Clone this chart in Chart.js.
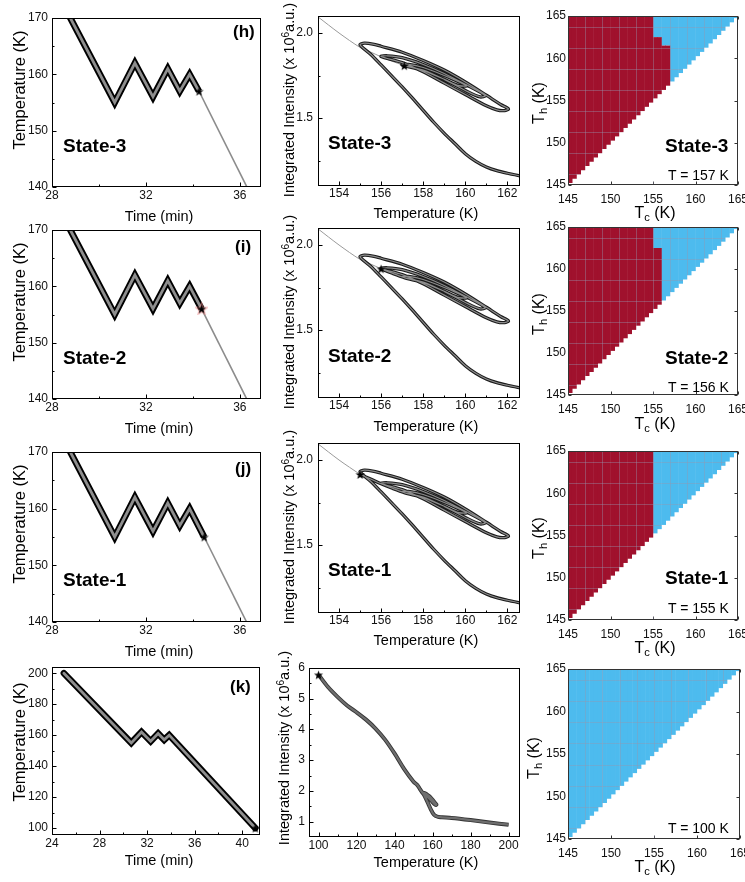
<!DOCTYPE html>
<html><head><meta charset="utf-8"><title>Hysteresis memory states</title>
<script src="https://cdn.jsdelivr.net/npm/chart.js@4.4.1/dist/chart.umd.min.js"></script>
<style>
html,body{margin:0;padding:0;background:#fff;}
body{width:745px;height:882px;overflow:hidden;position:relative;font-family:"Liberation Sans",Arial,sans-serif;color:#000;}
canvas{position:absolute;display:block;}
.t{position:absolute;white-space:nowrap;line-height:1;z-index:5;color:#000;}
.c{transform:translate(-50%,-50%);}
.v{transform:translate(-50%,-50%) rotate(-90deg);}
.b{font-weight:bold;}
sub{font-size:70%;vertical-align:-0.3em;line-height:0;}
sup{font-size:70%;vertical-align:0.5em;line-height:0;}
</style></head><body>
<script>
// ---------------- DATA ----------------
// Temperature protocol (time in min, temperature in K)
const protoTime = [25.0, 30.67, 31.53, 32.30, 32.93, 33.44, 33.86];
const protoTemp = [200, 155, 162, 156, 161, 157, 160];
const protoEndTime = [41.1];
const protoEndTemp = [100];
// star (current state) positions for rows h, i, j, k
const panelTags = ['(h)', '(i)', '(j)', '(k)'];
const stateNames = ['State-3', 'State-2', 'State-1', ''];
const stateTemps = ['T = 157 K', 'T = 156 K', 'T = 155 K', 'T = 100 K'];
const starTime = [34.26, 34.37, 34.48, 41.1];
const starTemp = [157, 156, 155, 100];

// Integrated intensity (x10^6 a.u.) vs temperature (K)
// initial cooling 200 K -> 155 K
const initCoolT = [200, 190, 180, 170, 165, 163, 162.6, 162.0, 161.5, 161.0, 160.5, 160.0, 159.5, 159.0, 158.5, 158.0, 157.5, 157.0, 156.5, 156.0, 155.5, 155.0];
const initCoolI = [0.90, 0.97, 1.05, 1.12, 1.14, 1.155, 1.16, 1.175, 1.19, 1.212, 1.245, 1.29, 1.35, 1.41, 1.475, 1.545, 1.615, 1.683, 1.748, 1.812, 1.875, 1.93];
// nested minor loops 155->162->156->161->157->160->cooling
const loopT = [155.2, 155.6, 156.0, 157.0, 158.0, 159.0, 160.0, 161.0, 161.7, 162.05,
               161.8, 161.5, 161.0, 160.0, 159.0, 158.0, 157.0, 156.0,
               156.3, 157.0, 158.0, 159.0, 160.0, 160.95,
               160.7, 160.0, 159.0, 158.0, 157.0,
               157.3, 158.0, 159.0, 160.05,
               159.7, 159.0, 158.0];
const loopI = [1.940, 1.935, 1.922, 1.887, 1.838, 1.782, 1.712, 1.634, 1.578, 1.553,
               1.543, 1.548, 1.572, 1.638, 1.705, 1.772, 1.826, 1.862,
               1.866, 1.855, 1.815, 1.762, 1.698, 1.632,
               1.624, 1.662, 1.727, 1.782, 1.812,
               1.815, 1.797, 1.750, 1.690,
               1.690, 1.728, 1.778];
// final cooling 157 K -> 100 K
const finalCoolT = [157.1, 156.5, 156.0, 155.5, 155.0, 154.0, 153.0, 152.0, 150.0, 145, 140, 135, 130, 125, 120, 115, 110, 105, 100];
const finalCoolI = [1.808, 1.835, 1.86, 1.888, 1.915, 2.0, 2.095, 2.19, 2.30, 2.72, 3.22, 3.67, 4.03, 4.32, 4.56, 4.78, 5.06, 5.38, 5.78];
const starIndex = [0, 2, 4, 18];

// State maps: cell centres (Tc = Th grid, 0.5 K cells); red/blue boundary in Th per column
const hmTc = [145.25,145.75,146.25,146.75,147.25,147.75,148.25,148.75,149.25,149.75,
              150.25,150.75,151.25,151.75,152.25,152.75,153.25,153.75,154.25,154.75,
              155.25,155.75,156.25,156.75,157.25,157.75,158.25,158.75,159.25,159.75,
              160.25,160.75,161.25,161.75,162.25,162.75,163.25,163.75,164.25,164.75];
const redTop157 = [165,165,165,165,165,165,165,165,165,165,165,165,165,165,165,165,165,165,165,165,
                   162.5,162.5,161.5,161.5,null,null,null,null,null,null,null,null,null,null,null,null,null,null,null,null];
const redTop156 = [165,165,165,165,165,165,165,165,165,165,165,165,165,165,165,165,165,165,165,165,
                   162.5,162.5,null,null,null,null,null,null,null,null,null,null,null,null,null,null,null,null,null,null];
const redTop155 = [165,165,165,165,165,165,165,165,165,165,165,165,165,165,165,165,165,165,165,165,
                   null,null,null,null,null,null,null,null,null,null,null,null,null,null,null,null,null,null,null,null];
const redTop100 = [null,null,null,null,null,null,null,null,null,null,null,null,null,null,null,null,null,null,null,null,
                   null,null,null,null,null,null,null,null,null,null,null,null,null,null,null,null,null,null,null,null];
const redTops = [redTop157, redTop156, redTop155, redTop100];
const hmMax = 165;

// tick values
const leftXMajor = [28, 32, 36], leftXMinor = [30, 34];
const leftYMajor = [140, 150, 160, 170], leftYMinor = [145, 155, 165];
const kXMajor = [24, 28, 32, 36, 40], kXMinor = [26, 30, 34, 38];
const kYMajor = [100, 120, 140, 160, 180, 200], kYMinor = [110, 130, 150, 170, 190];
const midXMajor = [154, 156, 158, 160, 162], midXMinor = [155, 157, 159, 161];
const midYMajor = [1.5, 2.0], midYMinor = [1.25, 1.75];
const kIXMajor = [100, 120, 140, 160, 180, 200], kIXMinor = [110, 130, 150, 170, 190];
const kIYMajor = [1, 2, 3, 4, 5, 6], kIYMinor = [1.5, 2.5, 3.5, 4.5, 5.5];
const hmMajor = [145, 150, 155, 160, 165];
const hmCellLinesX = [147, 149, 151, 153, 155, 157, 159, 161, 163];
const hmCellLinesY = [146.25, 148.75, 151.25, 153.75, 156.25, 158.75, 161.25, 163.75];

// ---------------- STYLE / LAYOUT ----------------
const RED = '#A0112D', BLUE = '#4DBBEE';
Chart.defaults.font.family = '"Liberation Sans", Arial, sans-serif';
Chart.defaults.font.size = 12;
Chart.defaults.color = '#111';

const GEOM = {
  left:  [[52,18,261,187],[52,230,261,399],[52,452,261,622],[52,667,260,835]],
  mid:   [[318,16,520,186],[318,228,520,398],[318,443,520,613],[309,668,520,837]],
  right: [[568,16,738,185],[568,227,738,395],[568,451,738,620],[568,669,740,839]]
};
const YW = 40, XH = 24, PT = 10, PR = 12;

function makeCanvas(g) {
  const [L, T, R, B] = g;
  const left = L - YW, top = T - PT, w = R + PR - left, h = B - top + XH;
  const c = document.createElement('canvas');
  c.width = w; c.height = h;
  c.style.left = left + 'px'; c.style.top = top + 'px';
  c.style.width = w + 'px'; c.style.height = h + 'px';
  document.body.appendChild(c);
  return c;
}

function axis(min, max, major, pad, isY, fmt) {
  return {
    type: 'linear', min: min, max: max, offset: false,
    grid: {display: false, drawTicks: false},
    border: {display: false},
    ticks: {padding: pad, autoSkip: false, maxRotation: 0, color: '#111', font: {size: 12},
            callback: fmt || (v => String(v))},
    afterBuildTicks: s => { s.ticks = major.map(v => ({value: v})); },
    afterFit: s => {
      if (isY) { s.width = YW; s.paddingTop = 0; s.paddingBottom = 0; }
      else { s.height = XH; s.paddingLeft = 0; s.paddingRight = 0; }
    }
  };
}

function drawTicks(chart, o) {
  if (!o.xMajor) return;
  const {ctx, chartArea: a} = chart;
  const xs = chart.scales.x, ys = chart.scales.y;
  ctx.save();
  ctx.strokeStyle = o.color || '#000'; ctx.lineWidth = 1;
  ctx.beginPath();
  const bx = a.bottom - 0.5, lx = a.left + 0.5, tx = a.top + 0.5, rx = a.right - 0.5;
  const xt = (vals, len) => (vals || []).forEach(v => {
    const p = Math.round(xs.getPixelForValue(v)) + 0.5;
    ctx.moveTo(p, bx); ctx.lineTo(p, bx - len);
    if (o.mirror) { ctx.moveTo(p, tx); ctx.lineTo(p, tx + len); }
  });
  const yt = (vals, len) => (vals || []).forEach(v => {
    const p = Math.round(ys.getPixelForValue(v)) + 0.5;
    ctx.moveTo(lx, p); ctx.lineTo(lx + len, p);
    if (o.mirror) { ctx.moveTo(rx, p); ctx.lineTo(rx - len, p); }
  });
  xt(o.xMajor, o.major); xt(o.xMinor, o.minor);
  yt(o.yMajor, o.major); yt(o.yMinor, o.minor);
  ctx.stroke();
  ctx.restore();
}

const framePlugin = {
  id: 'frame',
  beforeDatasetsDraw(chart, args, o) { if (o && o.under) drawTicks(chart, o); },
  afterDatasetsDraw(chart, args, o) {
    if (!o || !o.cellX) return;
    const {ctx, chartArea: a} = chart;
    const xs = chart.scales.x, ys = chart.scales.y;
    ctx.save();
    ctx.beginPath(); ctx.rect(a.left, a.top, a.right - a.left, a.bottom - a.top); ctx.clip();
    ctx.globalCompositeOperation = 'source-atop';
    ctx.strokeStyle = 'rgba(150,150,175,0.4)'; ctx.lineWidth = 1;
    ctx.beginPath();
    o.cellX.forEach(v => { const p = Math.round(xs.getPixelForValue(v)) + 0.5; ctx.moveTo(p, a.top); ctx.lineTo(p, a.bottom); });
    o.cellY.forEach(v => { const p = Math.round(ys.getPixelForValue(v)) + 0.5; ctx.moveTo(a.left, p); ctx.lineTo(a.right, p); });
    ctx.stroke();
    ctx.restore();
  },
  afterDraw(chart, args, o) {
    if (!o || !o.xMajor) return;
    if (!o.under) drawTicks(chart, o);
    const {ctx, chartArea: a} = chart;
    ctx.save();
    ctx.strokeStyle = o.color || '#000'; ctx.lineWidth = 1;
    ctx.strokeRect(a.left + 0.5, a.top + 0.5, a.right - a.left - 1, a.bottom - a.top - 1);
    ctx.restore();
  }
};
Chart.register(framePlugin);

function starImage(halo) {
  const c = document.createElement('canvas');
  const s = 13; c.width = s; c.height = s;
  const g = c.getContext('2d');
  const R = 4.8, r = 2.0, cx = s / 2, cy = s / 2 + 0.5;
  g.beginPath();
  for (let k = 0; k < 10; k++) {
    const rad = k % 2 ? r : R;
    const ang = -Math.PI / 2 + k * Math.PI / 5;
    g.lineTo(cx + rad * Math.cos(ang), cy + rad * Math.sin(ang));
  }
  g.closePath();
  if (halo) { g.strokeStyle = 'rgba(235,130,130,0.55)'; g.lineWidth = 2.2; g.stroke(); }
  g.fillStyle = '#000'; g.fill();
  return c;
}

function baseOptions(xAx, yAx, frame) {
  return {
    responsive: false, animation: false, events: [], devicePixelRatio: 1,
    layout: {padding: {top: PT, right: PR, left: 0, bottom: 0}},
    plugins: {legend: {display: false}, tooltip: {enabled: false}, frame: frame},
    elements: {point: {radius: 0}},
    scales: {x: xAx, y: yAx}
  };
}

function pts(xs, ys) { return xs.map((x, i) => ({x: x, y: ys[i]})); }

// ---------------- LEFT COLUMN: temperature vs time ----------------
function leftChart(r) {
  const g = GEOM.left[r];
  const full = r === 3;
  const star = {x: starTime[r], y: starTemp[r]};
  const thick = pts(protoTime, protoTemp).concat([star]);
  const thin = full ? [] : [star].concat(pts(protoEndTime, protoEndTemp));
  const xAx = full ? axis(24, 41.5, kXMajor, 1, false) : axis(28, 36.9, leftXMajor, 1, false);
  const yAx = full ? axis(95.5, 204, kYMajor, 4, true) : axis(140, 170, leftYMajor, 4, true);
  const frame = full ? {xMajor: kXMajor, xMinor: kXMinor, yMajor: kYMajor, yMinor: kYMinor, major: 4, minor: 2}
                     : {xMajor: leftXMajor, xMinor: leftXMinor, yMajor: leftYMajor, yMinor: leftYMinor, major: 4, minor: 2};
  new Chart(makeCanvas(g), {
    type: 'line',
    data: {datasets: [
      {data: [star], showLine: false, pointStyle: starImage(r === 1), pointRadius: 5, clip: 6},
      {data: thick, borderColor: '#8e8e8e', borderWidth: 2.8, tension: 0, borderJoinStyle: 'miter', borderCapStyle: full ? 'round' : 'butt', clip: 0},
      {data: thick, borderColor: '#000', borderWidth: 6.6, tension: 0, borderJoinStyle: 'miter', borderCapStyle: full ? 'round' : 'butt', clip: 0},
      {data: thin, borderColor: '#8c8c8c', borderWidth: 1.6, tension: 0, clip: 0}
    ]},
    options: baseOptions(xAx, yAx, frame)
  });
}

// ---------------- MIDDLE COLUMN: intensity vs temperature ----------------
function midChart(r) {
  const g = GEOM.mid[r];
  const full = r === 3;
  const k = starIndex[r];
  const fin = pts(finalCoolT, finalCoolI);
  const thick = pts(initCoolT, initCoolI).concat(pts(loopT, loopI)).concat(fin.slice(0, k + 1));
  const thin = fin.slice(k);
  const star = fin[k];
  const xAx = full ? axis(95, 206, kIXMajor, 1, false) : axis(153, 162.6, midXMajor, 0, false);
  const yAx = full ? axis(0.5, 6.0, kIYMajor, 4, true) : axis(1.1, 2.1, midYMajor, 5, true, v => v.toFixed(1));
  const frame = full ? {xMajor: kIXMajor, xMinor: kIXMinor, yMajor: kIYMajor, yMinor: kIYMinor, major: 4, minor: 2}
                     : {xMajor: midXMajor, xMinor: midXMinor, yMajor: midYMajor, yMinor: midYMinor, major: 4, minor: 2};
  new Chart(makeCanvas(g), {
    type: 'line',
    data: {datasets: [
      {data: [star], showLine: false, pointStyle: starImage(false), pointRadius: 5, clip: 6},
      {data: thick, borderColor: full ? '#6e6e6e' : '#8c8c8c', borderWidth: full ? 2.2 : 1.2, tension: 0.3, borderJoinStyle: 'round', clip: 0},
      {data: thick, borderColor: full ? '#333' : '#1a1a1a', borderWidth: full ? 4 : 3.3, tension: 0.3, borderJoinStyle: 'round', clip: 0},
      {data: thin, borderColor: '#9a9a9a', borderWidth: 1, tension: 0.3, clip: 0}
    ]},
    options: baseOptions(xAx, yAx, frame)
  });
}

// ---------------- RIGHT COLUMN: state maps ----------------
function heatChart(r) {
  const g = GEOM.right[r];
  const top = redTops[r];
  const red = [], blue = [];
  hmTc.forEach((tc, i) => {
    const rt = top[i];
    if (rt !== null) red.push({x: tc, y: [tc, rt]});
    if (rt === null) blue.push({x: tc, y: [tc, hmMax]});
    else if (rt < hmMax) blue.push({x: tc, y: [rt, hmMax]});
  });
  const xAx = axis(145, 165, hmMajor, 7, false);
  const yAx = axis(145, 165, hmMajor, 2, true);
  const frame = {xMajor: hmMajor, yMajor: hmMajor, major: 3, minor: 0, mirror: true, under: true,
                 color: '#333', cellX: hmCellLinesX, cellY: hmCellLinesY};
  const opts = baseOptions(xAx, yAx, frame);
  new Chart(makeCanvas(g), {
    type: 'bar',
    data: {datasets: [
      {data: red, backgroundColor: RED, borderWidth: 0, grouped: false, barPercentage: 1.12, categoryPercentage: 1, clip: 0},
      {data: blue, backgroundColor: BLUE, borderWidth: 0, grouped: false, barPercentage: 1.12, categoryPercentage: 1, clip: 0}
    ]},
    options: opts
  });
}

for (let r = 0; r < 4; r++) { leftChart(r); midChart(r); heatChart(r); }

// ---------------- TEXT ----------------
function txt(html, x, y, fs, cls) {
  const d = document.createElement('div');
  d.className = 't ' + cls;
  d.innerHTML = html;
  d.style.left = x + 'px'; d.style.top = y + 'px'; d.style.fontSize = fs + 'px';
  document.body.appendChild(d);
}
function ann(html, x, capTop, fs, bold) { txt(html, x, capTop - 0.13 * fs, fs, bold ? 'b' : ''); }

const leftYc = [90, 302, 524, 742], leftXc = [216, 428, 651, 860];
const midYc = [100, 312, 527, 748], midXc = [213, 426, 640, 862], midYx = [289, 289, 289, 284];
const rightYc = [103, 314, 538, 758], rightXc = [213, 424, 648, 867], rightYx = [539, 539, 539, 534];
for (let r = 0; r < 4; r++) {
  txt('Temperature (K)', 19, leftYc[r], 16.5, 'v');
  txt('Time (min)', 159, leftXc[r], 14.5, 'c');
  txt('Integrated Intensity (x 10<sup>6</sup>a.u.)', midYx[r], midYc[r], 14.5, 'v');
  txt('Temperature (K)', 426, midXc[r], 14.5, 'c');
  txt('T<sub>h</sub> (K)', rightYx[r], rightYc[r], 16, 'v');
  txt('T<sub>c</sub> (K)', 655, rightXc[r], 16, 'c');
}
const tagX = [233, 235, 235, 230], tagTop = [25, 240, 462, 680];
const stLeftTop = [138, 350, 572], stMidTop = [135, 348, 562], stRightTop = [138, 350, 570];
const tTop = [170, 382, 603, 823];
for (let r = 0; r < 4; r++) {
  ann(panelTags[r], tagX[r], tagTop[r], 17, true);
  if (stateNames[r]) {
    ann(stateNames[r], 63, stLeftTop[r], 19, true);
    ann(stateNames[r], 328, stMidTop[r], 19, true);
    ann(stateNames[r], 665, stRightTop[r], 19, true);
  }
  ann(stateTemps[r], 668, tTop[r], 14, false);
}
</script>
</body></html>
